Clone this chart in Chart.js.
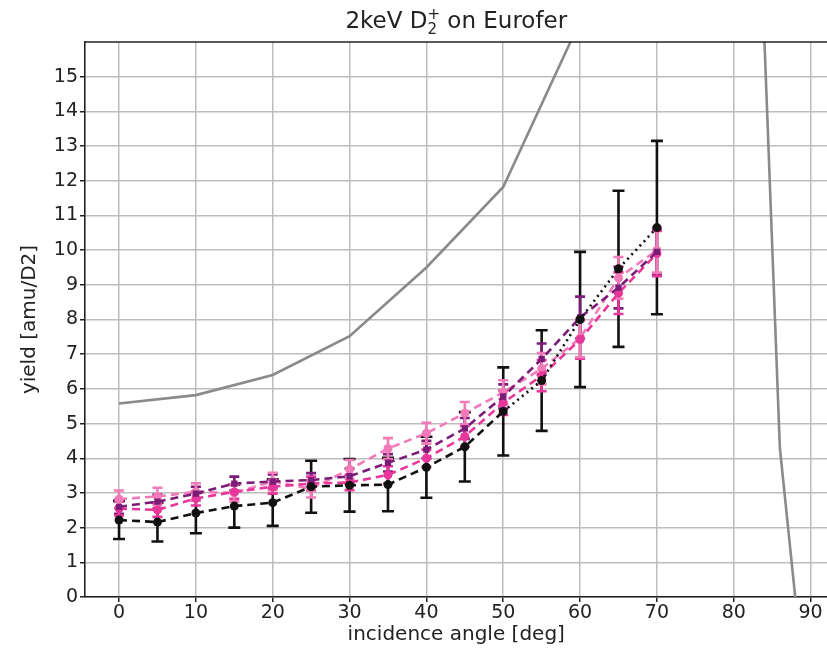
<!DOCTYPE html>
<html>
<head>
<meta charset="utf-8">
<script src="https://cdn.jsdelivr.net/npm/chart.js@4.4.1/dist/chart.umd.min.js"></script>
<style>
  html, body { margin: 0; padding: 0; background: #fff; overflow: hidden; }
  #wrap { width: 827px; height: 653px; overflow: hidden; }
</style>
</head>
<body>
<div id="wrap"><canvas id="myChart" width="832" height="653"></canvas></div>
<script>
// incidence angles of the measured points
const angles = [0, 5, 10, 15, 20, 25, 30, 35, 40, 45, 50, 55, 60, 65, 70];

// measured yields and their error bars
const blackYield  = [2.22, 2.16, 2.42, 2.62, 2.72, 3.18, 3.22, 3.24, 3.74, 4.33, 5.35, 6.24, 8.0, 9.46, 10.65];
const blackErr    = [0.55, 0.56, 0.58, 0.62, 0.67, 0.75, 0.76, 0.77, 0.88, 1.0, 1.27, 1.45, 1.95, 2.25, 2.5];
const purpleYield = [2.6, 2.75, 2.98, 3.27, 3.33, 3.37, 3.48, 3.87, 4.25, 4.86, 5.78, 6.86, 8.06, 8.92, 9.95];
const purpleErr   = [0.2, 0.2, 0.2, 0.2, 0.2, 0.2, 0.22, 0.25, 0.25, 0.3, 0.35, 0.45, 0.6, 0.6, 0.65];
const pinkYield   = [2.55, 2.51, 2.84, 3.03, 3.18, 3.27, 3.3, 3.52, 4.0, 4.63, 5.6, 6.38, 7.42, 8.76, 9.9];
const pinkErr     = [0.2, 0.2, 0.2, 0.2, 0.2, 0.2, 0.22, 0.25, 0.25, 0.3, 0.35, 0.45, 0.55, 0.6, 0.65];
const lightYield  = [2.82, 2.9, 3.03, 3.0, 3.33, 3.12, 3.68, 4.28, 4.72, 5.3, 5.9, 6.58, 7.46, 9.2, 10.0];
const lightErr    = [0.25, 0.25, 0.25, 0.25, 0.25, 0.25, 0.27, 0.3, 0.3, 0.32, 0.35, 0.45, 0.55, 0.6, 0.65];

// simulated yield curve
const simAngles = [0, 10, 20, 30, 40, 50, 60, 70, 80, 86, 88];
const simYield  = [5.58, 5.82, 6.4, 7.52, 9.5, 11.82, 16.6, 26, 39.4, 4.3, 0];

const xTicks = [0, 10, 20, 30, 40, 50, 60, 70, 80, 90];
const yTicks = [0, 1, 2, 3, 4, 5, 6, 7, 8, 9, 10, 11, 12, 13, 14, 15];

const FONT = "'DejaVu Sans', sans-serif";

function pts(xs, ys, errs) {
  return xs.map((x, i) => ({ x: x, y: ys[i], err: errs ? errs[i] : 0 }));
}

function measured(label, ys, errs, color, style, errColor, capW) {
  return {
    label: label,
    data: pts(angles, ys, errs),
    showLine: true,
    borderColor: color,
    backgroundColor: color,
    borderWidth: 2.6,
    borderDash: [8, 5],
    pointStyle: style,
    pointRadius: 4.5,
    pointBorderWidth: 0,
    errColor: errColor,
    capW: capW,
    segment: label === 'black' ? {
      borderDash: ctx => ctx.p0.parsed.x >= 50 ? [2, 4] : [8, 5]
    } : undefined
  };
}

// error bars drawn from the data through the chart scales
const errorBars = {
  id: 'errorBars',
  beforeDatasetsDraw(chart) {
    const ctx = chart.ctx;
    const xs = chart.scales.x, ys = chart.scales.y;
    ctx.save();
    chart.data.datasets.forEach(ds => {
      if (!ds.errColor) return;
      ctx.strokeStyle = ds.errColor;
      ctx.lineWidth = 2.6;
      ds.data.forEach(p => {
        const px = xs.getPixelForValue(p.x);
        const lo = ys.getPixelForValue(p.y - p.err);
        const hi = ys.getPixelForValue(p.y + p.err);
        ctx.beginPath();
        ctx.moveTo(px, lo); ctx.lineTo(px, hi);
        ctx.moveTo(px - ds.capW, lo); ctx.lineTo(px + ds.capW, lo);
        ctx.moveTo(px - ds.capW, hi); ctx.lineTo(px + ds.capW, hi);
        ctx.stroke();
      });
    });
    ctx.restore();
  },
  afterDraw(chart) {
    const ctx = chart.ctx;
    const a = chart.chartArea;
    ctx.save();
    // top frame line
    ctx.strokeStyle = '#222';
    ctx.lineWidth = 1.6;
    ctx.beginPath();
    ctx.moveTo(a.left, a.top); ctx.lineTo(a.right, a.top);
    ctx.stroke();
    // title with stacked sub/superscript
    const main = '23px ' + FONT, small = '15px ' + FONT;
    const t1 = '2keV D', t2 = ' on Eurofer';
    ctx.font = main;
    const w1 = ctx.measureText(t1).width, w2 = ctx.measureText(t2).width;
    ctx.font = small;
    const ws = Math.max(ctx.measureText('+').width, ctx.measureText('2').width);
    const total = w1 + ws + w2;
    let x = (a.left + a.right) / 2 - total / 2;
    const y = 28;
    ctx.fillStyle = '#222';
    ctx.textBaseline = 'alphabetic';
    ctx.textAlign = 'left';
    ctx.font = main;
    ctx.fillText(t1, x, y);
    ctx.font = small;
    ctx.fillText('+', x + w1, y - 9);
    ctx.fillText('2', x + w1, y + 6);
    ctx.font = main;
    ctx.fillText(t2, x + w1 + ws, y);
    ctx.restore();
  }
};

const ctx = document.getElementById('myChart').getContext('2d');
const myChart = new Chart(ctx, {
  type: 'scatter',
  data: {
    datasets: [
      {
        label: 'simulation',
        data: pts(simAngles, simYield),
        showLine: true,
        borderColor: '#8a8a8a',
        borderWidth: 2.6,
        pointRadius: 0
      },
      measured('black', blackYield, blackErr, '#111111', 'circle', '#111111', 6),
      measured('purple', purpleYield, purpleErr, '#7a1c78', 'rect', '#7a1c78', 5),
      measured('pink', pinkYield, pinkErr, '#e8369a', 'circle', '#e8369a', 5),
      measured('light', lightYield, lightErr, '#f27ab8', 'circle', '#f27ab8', 5)
    ]
  },
  options: {
    responsive: false,
    animation: false,
    layout: { padding: { top: 42, right: 0, left: 0, bottom: 0 } },
    plugins: {
      legend: { display: false },
      tooltip: { enabled: false },
      title: { display: false }
    },
    scales: {
      x: {
        type: 'linear',
        min: -4.43,
        max: 92.2,
        afterBuildTicks: s => { s.ticks = xTicks.map(v => ({ value: v })); },
        afterFit: s => { s.height = 56; },
        grid: { color: '#bdbdbd', lineWidth: 1.5, tickLength: 5, tickColor: '#222' },
        border: { color: '#222', width: 1.6 },
        ticks: { color: '#222', font: { family: FONT, size: 19 }, padding: 0, maxRotation: 0 },
        title: {
          display: true, text: 'incidence angle [deg]', color: '#222',
          font: { family: FONT, size: 20 }, padding: { top: 6, bottom: 6 }
        }
      },
      y: {
        type: 'linear',
        min: 0,
        max: 16,
        afterBuildTicks: s => { s.ticks = yTicks.map(v => ({ value: v })); },
        afterFit: s => { s.width = 85; },
        grid: { color: '#bdbdbd', lineWidth: 1.5, tickLength: 5, tickColor: '#222' },
        border: { color: '#222', width: 1.6 },
        ticks: { color: '#222', font: { family: FONT, size: 19 }, padding: 2 },
        title: {
          display: true, text: 'yield [amu/D2]', color: '#222',
          font: { family: FONT, size: 20 }, padding: { top: 18, bottom: 18 }
        }
      }
    }
  },
  plugins: [errorBars]
});
</script>
</body>
</html>
